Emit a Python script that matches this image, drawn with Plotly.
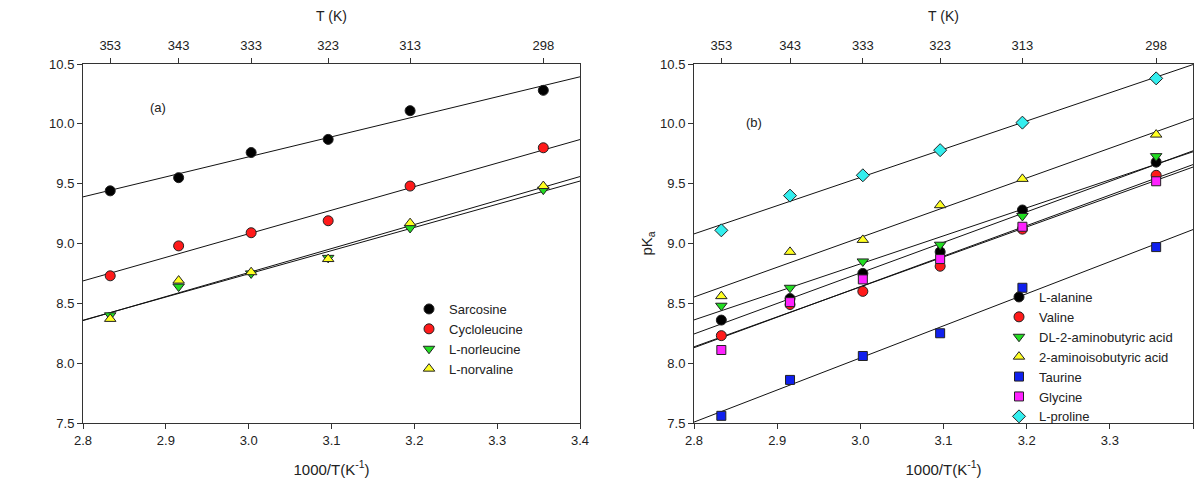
import numpy as np
import plotly.graph_objects as go

# Temperatures (K) and reciprocal axis
temps = [353, 343, 333, 323, 313, 298]
inv_t = [1000.0 / t for t in temps]

# Panel (a)
sarcosine = [9.44, 9.55, 9.76, 9.87, 10.11, 10.28]
cycloleucine = [8.73, 8.98, 9.09, 9.19, 9.48, 9.80]
l_norleucine = [8.40, 8.64, 8.75, 8.88, 9.13, 9.45]
l_norvaline = [8.37, 8.69, 8.76, 8.87, 9.17, 9.48]

# Panel (b)
l_alanine = [8.36, 8.54, 8.75, 8.93, 9.28, 9.68]
valine = [8.23, 8.49, 8.60, 8.81, 9.12, 9.57]
dl_aminobutyric = [8.48, 8.63, 8.85, 8.99, 9.23, 9.73]
aminoisobutyric = [8.56, 8.93, 9.03, 9.32, 9.54, 9.91]
taurine = [7.56, 7.86, 8.06, 8.25, 8.63, 8.97]
glycine = [8.11, 8.51, 8.70, 8.87, 9.14, 9.52]
l_proline = [9.11, 9.40, 9.57, 9.78, 10.01, 10.38]

x_range = [2.8, 3.4]
y_range = [7.5, 10.5]
x_ticks = [2.8, 2.9, 3.0, 3.1, 3.2, 3.3, 3.4]
y_ticks = [7.5, 8.0, 8.5, 9.0, 9.5, 10.0, 10.5]

series_a = [
    ("Sarcosine", sarcosine, "circle", "#000000"),
    ("Cycloleucine", cycloleucine, "circle", "#ff1a1a"),
    ("L-norleucine", l_norleucine, "triangle-down", "#22dd22"),
    ("L-norvaline", l_norvaline, "triangle-up", "#ffff22"),
]
series_b = [
    ("L-alanine", l_alanine, "circle", "#000000"),
    ("Valine", valine, "circle", "#ff1a1a"),
    ("DL-2-aminobutyric acid", dl_aminobutyric, "triangle-down", "#22dd22"),
    ("2-aminoisobutyric acid", aminoisobutyric, "triangle-up", "#ffff22"),
    ("Taurine", taurine, "square", "#1020ee"),
    ("Glycine", glycine, "square", "#ff22ff"),
    ("L-proline", l_proline, "diamond", "#33eeee"),
]

FONT = "Liberation Sans, Arial, sans-serif"
fig = go.Figure()


def add_panel(series, xa, ya, legend):
    # fitted lines first (under markers)
    for name, vals, sym, col in series:
        k, b = np.polyfit(inv_t, vals, 1)
        fig.add_trace(go.Scatter(
            x=x_range, y=[k * x_range[0] + b, k * x_range[1] + b],
            mode="lines", line=dict(color="#111111", width=1),
            xaxis=xa, yaxis=ya, showlegend=False, hoverinfo="skip"))
    for name, vals, sym, col in series:
        size = 10 if sym != "square" else 9
        fig.add_trace(go.Scatter(
            x=inv_t, y=vals, mode="markers", name=name,
            marker=dict(symbol=sym, size=size, color=col,
                        line=dict(color="#222222", width=1)),
            xaxis=xa, yaxis=ya, legend=legend))


add_panel(series_a, "x", "y", "legend")
add_panel(series_b, "x2", "y2", "legend2")

# invisible traces for top axes
fig.add_trace(go.Scatter(x=inv_t, y=[None] * 6, xaxis="x3", yaxis="y",
                         showlegend=False, hoverinfo="skip"))
fig.add_trace(go.Scatter(x=inv_t, y=[None] * 6, xaxis="x4", yaxis="y2",
                         showlegend=False, hoverinfo="skip"))

W, H, OFF = 1194, 475, 8


def px(X):
    return (X - OFF) / W


def py(Y):
    return 1 - (Y - OFF) / H


dom_a = [px(83), px(580)]
dom_b = [px(694), px(1193)]
dom_y = [py(423), py(64)]

tickfont = dict(family=FONT, size=13, color="#222222")
titlefont = dict(family=FONT, size=15, color="#222222")


def bottom_axis(dom, anchor):
    return dict(domain=dom, range=x_range, tickvals=x_ticks,
                ticktext=[f"{v:.1f}" for v in x_ticks],
                showline=True, linecolor="#333333", linewidth=1,
                ticks="outside", ticklen=5, tickcolor="#333333",
                showgrid=False, zeroline=False, anchor=anchor,
                tickfont=tickfont, automargin=False,
                title=dict(text="1000/T(K<sup>-1</sup>)", font=titlefont, standoff=17))


def top_axis(over, anchor):
    return dict(overlaying=over, side="top", range=x_range, tickvals=inv_t,
                ticktext=[str(t) for t in temps], anchor=anchor,
                showline=True, linecolor="#333333", linewidth=1,
                ticks="outside", ticklen=5, tickcolor="#333333",
                showgrid=False, zeroline=False, tickfont=tickfont,
                automargin=False, ticklabelstandoff=3,
                title=dict(text="T (K)", font=dict(family=FONT, size=14, color="#222222"),
                           standoff=13))


def y_axis(dom, anchor, title):
    d = dict(domain=dom, range=y_range, tickvals=y_ticks,
             ticktext=[f"{v:.1f}" for v in y_ticks],
             showline=True, mirror=True, linecolor="#333333", linewidth=1,
             ticks="outside", ticklen=5, tickcolor="#333333",
             showgrid=False, zeroline=False, anchor=anchor, tickfont=tickfont,
             automargin=False)
    if title:
        d["title"] = dict(text=title, font=titlefont, standoff=3)
    return d


leg_font = dict(family=FONT, size=13, color="#222222")

fig.update_layout(
    width=W, height=H,
    margin=dict(l=0, r=0, t=0, b=0),
    paper_bgcolor="white", plot_bgcolor="white",
    font=dict(family=FONT, size=13, color="#222222"),
    xaxis=bottom_axis(dom_a, "y"),
    yaxis=y_axis(dom_y, "x", None),
    xaxis2=bottom_axis(dom_b, "y2"),
    yaxis2=y_axis(dom_y, "x2", "pK<sub>a</sub>"),
    xaxis3=top_axis("x", "y"),
    xaxis4=top_axis("x2", "y2"),
    legend=dict(x=px(409), y=py(294), xanchor="left", yanchor="top",
                bgcolor="rgba(0,0,0,0)", font=leg_font,
                itemwidth=30, tracegroupgap=0),
    legend2=dict(x=px(999), y=py(282), xanchor="left", yanchor="top",
                 bgcolor="rgba(0,0,0,0)", font=leg_font,
                 itemwidth=30, tracegroupgap=0),
    showlegend=True,
    annotations=[
        dict(text="(a)", x=2.89, y=10.14, xref="x", yref="y", showarrow=False,
             font=dict(family=FONT, size=13, color="#222222")),
        dict(text="(b)", x=2.872, y=10.01, xref="x2", yref="y2", showarrow=False,
             font=dict(family=FONT, size=13, color="#222222")),
    ],
)

fig.write_html("out.html")
